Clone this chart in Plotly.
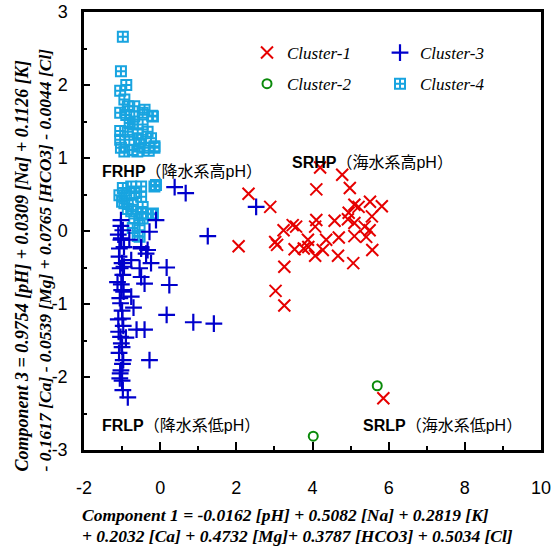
import plotly.graph_objects as go

# ---- data ----
c1_x = [4.20, 4.78, 2.32, 4.10, 4.98, 2.89, 5.10, 5.21, 5.51, 5.82, 4.95, 5.56, 4.58, 4.10,
        4.93, 3.48, 3.57, 4.07, 3.24, 5.10, 5.37, 5.50, 5.41, 5.10, 4.69, 4.36, 3.88, 3.02,
        3.07, 2.06, 3.53, 3.89, 4.27, 4.07, 4.67, 5.07, 5.57, 3.26, 3.03, 3.26, 5.86, 3.77]
c1_y = [0.87, 0.77, 0.51, 0.57, 0.59, 0.33, 0.36, 0.33, 0.40, 0.34, 0.25, 0.20, 0.14, 0.15,
        0.16, 0.08, 0.06, 0.06, 0.01, 0.11, 0.06, 0.01, -0.08, -0.07, -0.09, -0.12, -0.12, -0.15,
        -0.19, -0.21, -0.25, -0.22, -0.26, -0.34, -0.34, -0.44, -0.26, -0.49, -0.82, -1.02, -2.29, -0.24]

c2_x = [5.70, 4.02]
c2_y = [-2.12, -2.81]

c3_x = [-1.03, -0.98, -1.10, -1.03, -0.95, -1.08, -1.00, -1.05, -0.98, -1.12, -1.02, -0.96,
        -1.06, -1.00, -1.10, -0.97, -1.04, -1.00, -1.08, -0.99, -1.03, -1.06, -0.98, -1.02,
        -1.07, -0.95, -1.01, -1.04, -0.99, -1.09, -1.02, -0.97, -1.05, -1.00, -1.03,
        0.38, 0.67, 2.52, 1.25, -0.11, -0.28, -0.50, -0.37, -0.24, 0.17, -0.54, -0.50, -0.41,
        0.24, -0.76, 0.17, 0.87, 1.41, -0.62, -0.41, -0.28, -0.85, -0.90, -0.81, -0.33, -0.50,
        -0.76, -0.70]
c3_y = [0.15, 0.01, -0.05, -0.12, -0.22, -0.35, -0.44, -0.51, -0.60, -0.70, -0.73, -0.83,
        -0.92, -1.09, -1.21, -1.30, -1.45, -1.59, -1.67, -1.82, -1.91, -2.02, -2.18, -0.10,
        -0.24, -0.49, -0.81, -0.99, -1.20, -1.38, -1.54, -1.77, -1.95, -2.05, 0.07,
        0.60, 0.52, 0.33, -0.07, 0.15, -0.01, -0.24, -0.31, -0.44, -0.50, -0.51, -0.63, -0.72,
        -0.74, -0.90, -1.15, -1.25, -1.27, -1.35, -1.35, -1.77, -2.28, -1.46, -0.12, -0.26, -0.22,
        -0.40, -1.05]

c4_x = [-0.98, -1.03, -0.89, -1.05, -0.94, -0.85, -0.68, -0.41, -1.05, -0.89, -0.68, -0.46,
        -0.21, -0.72, -0.46, -1.05, -0.85, -0.59, -0.33, -1.05, -0.81, -0.50, -0.24, -1.03,
        -0.72, -0.41, -0.15, -0.94, -0.60, -0.30, -0.19, -0.15, -0.80, -0.55,
        -0.98, -0.76, -0.50, -0.15, -1.07, -0.89, -0.68, -0.50, -0.94, -0.72, -0.46, -0.76,
        -0.50, -0.24, -0.68, -0.46, -0.54, -0.72, -0.59, -0.11, -0.19, -0.54, -1.00, -0.85]
c4_y = [2.66, 2.19, 2.00, 1.92, 1.80, 1.71, 1.71, 1.66, 1.62, 1.59, 1.57, 1.62,
        1.58, 1.46, 1.46, 1.37, 1.36, 1.34, 1.36, 1.25, 1.25, 1.25, 1.27, 1.14,
        1.11, 1.14, 1.14, 1.09, 1.09, 1.10, 1.57, 1.16, 1.48, 1.20,
        0.59, 0.61, 0.61, 0.61, 0.49, 0.49, 0.52, 0.47, 0.38, 0.36, 0.33, 0.27,
        0.24, 0.23, 0.17, 0.17, 0.08, 0.04, -0.07, 0.63, 0.24, -0.08, 0.40, 0.30]

legend_names = ["Cluster-1", "Cluster-2", "Cluster-3", "Cluster-4"]
y_tickvals = [-3, -2, -1, 0, 1, 2, 3]
y_ticktext = ["-3", "-2", "-1", "0", "1", "2", "3"]
x_tickvals = [-2, 0, 2, 4, 6, 8, 10]
x_ticktext = ["-2", "0", "2", "4", "6", "8", "10"]

RED = "#e60000"
GREEN = "#0a8a0a"
BLUE = "#0000cc"
CYAN = "#18a4e0"

fig = go.Figure()
fig.add_trace(go.Scatter(x=c4_x, y=c4_y, mode="markers", name=legend_names[3], legend="legend2",
                         legendrank=2, legendgroup="c4",
                         marker=dict(symbol="square-cross-open", size=10, color=CYAN,
                                     line=dict(width=2, color=CYAN))))
fig.add_trace(go.Scatter(x=c3_x, y=c3_y, mode="markers", name=legend_names[2], legend="legend2",
                         legendrank=1, legendgroup="c3",
                         marker=dict(symbol="cross-thin-open", size=12, color=BLUE,
                                     line=dict(width=2.2, color=BLUE))))
fig.add_trace(go.Scatter(x=c2_x, y=c2_y, mode="markers", name=legend_names[1], legend="legend",
                         legendrank=2, legendgroup="c2",
                         marker=dict(symbol="circle-open", size=9, color=GREEN,
                                     line=dict(width=2, color=GREEN))))
fig.add_trace(go.Scatter(x=c1_x, y=c1_y, mode="markers", name=legend_names[0], legend="legend",
                         legendrank=1, legendgroup="c1",
                         marker=dict(symbol="x-thin-open", size=12, color=RED,
                                     line=dict(width=2, color=RED))))

L, R, T, B = 84, 11, 12, 98
W, H = 552, 548
pw, ph = W - L - R, H - T - B


def px(xp):
    return (xp - L) / pw


def py(yp):
    return (H - B - yp) / ph


leg_font = dict(family="Liberation Serif", size=17, color="black", style="italic")
fig.update_layout(
    width=W, height=H,
    margin=dict(l=L, r=R, t=T, b=B, autoexpand=False),
    paper_bgcolor="white", plot_bgcolor="white",
    showlegend=True,
    legend=dict(x=px(247), y=py(35), xanchor="left", yanchor="top", font=leg_font,
                bgcolor="rgba(0,0,0,0)", tracegroupgap=6, itemsizing="trace"),
    legend2=dict(x=px(380), y=py(35), xanchor="left", yanchor="top", font=leg_font,
                 bgcolor="rgba(0,0,0,0)", tracegroupgap=6, itemsizing="trace"),
    xaxis=dict(range=[-2, 10], tickmode="array", tickvals=x_tickvals, ticktext=x_ticktext,
               ticks="inside", ticklen=8, tickwidth=2, tickcolor="black",
               minor=dict(tickvals=[-1, 1, 3, 5, 7, 9], ticks="inside", ticklen=4,
                          tickwidth=1.5, tickcolor="black"),
               showline=True, linecolor="black", linewidth=2.5, mirror=True,
               showgrid=False, zeroline=False, ticklabelstandoff=20, automargin=False,
               tickfont=dict(family="Liberation Sans", size=18, color="black")),
    yaxis=dict(range=[-3, 3], tickmode="array", tickvals=y_tickvals, ticktext=y_ticktext,
               ticks="inside", ticklen=6, tickwidth=2, tickcolor="black",
               minor=dict(tickvals=[-2.5, -1.5, -0.5, 0.5, 1.5, 2.5], ticks="inside",
                          ticklen=3, tickwidth=1.5, tickcolor="black"),
               showline=True, linecolor="black", linewidth=2.5, mirror=True,
               showgrid=False, zeroline=False, ticklabelstandoff=10, automargin=False,
               tickfont=dict(family="Liberation Sans", size=18, color="black")),
)

xt_font = dict(family="Liberation Serif", size=17.5, color="black")
yt_font1 = dict(family="Liberation Serif", size=18, color="black")
yt_font2 = dict(family="Liberation Serif", size=17.5, color="black")
ann = []
ann.append(dict(text="<b><i>Component 1 = -0.0162 [pH] + 0.5082 [Na] + 0.2819 [K]</i></b>",
                x=px(80), y=py(515), xanchor="left", yanchor="middle", font=xt_font))
ann.append(dict(text="<b><i>+ 0.2032 [Ca] + 0.4732 [Mg]+ 0.3787 [HCO3] + 0.5034 [Cl]</i></b>",
                x=px(80), y=py(536), xanchor="left", yanchor="middle", font=xt_font))
ann.append(dict(text="<b><i>Component 3 = 0.9754 [pH] + 0.0309 [Na] + 0.1126 [K]</i></b>",
                x=px(21), y=py(474), xanchor="center", yanchor="bottom", textangle=-90,
                font=yt_font1))
ann.append(dict(text="<b><i>- 0.1617 [Ca] - 0.0539 [Mg] + 0.0765 [HCO3] - 0.0044 [Cl]</i></b>",
                x=px(44), y=py(474), xanchor="center", yanchor="bottom", textangle=-90,
                font=yt_font2))
for a in ann:
    a.update(xref="paper", yref="paper", showarrow=False)

lab_font = dict(family="Liberation Sans, Noto Sans CJK JP", size=16, color="black")
labels = [("<b>FRHP</b>（降水系高pH）", 100, 171),
          ("<b>SRHP</b>（海水系高pH）", 290, 162),
          ("<b>FRLP</b>（降水系低pH）", 100, 425),
          ("<b>SRLP</b>（海水系低pH）", 361, 425)]
for t, xx, yy in labels:
    ann.append(dict(text=t, x=px(xx), y=py(yy), xref="paper", yref="paper",
                    xanchor="left", yanchor="middle", showarrow=False, font=lab_font))

fig.update_layout(annotations=ann)
fig.write_html("out.html")
